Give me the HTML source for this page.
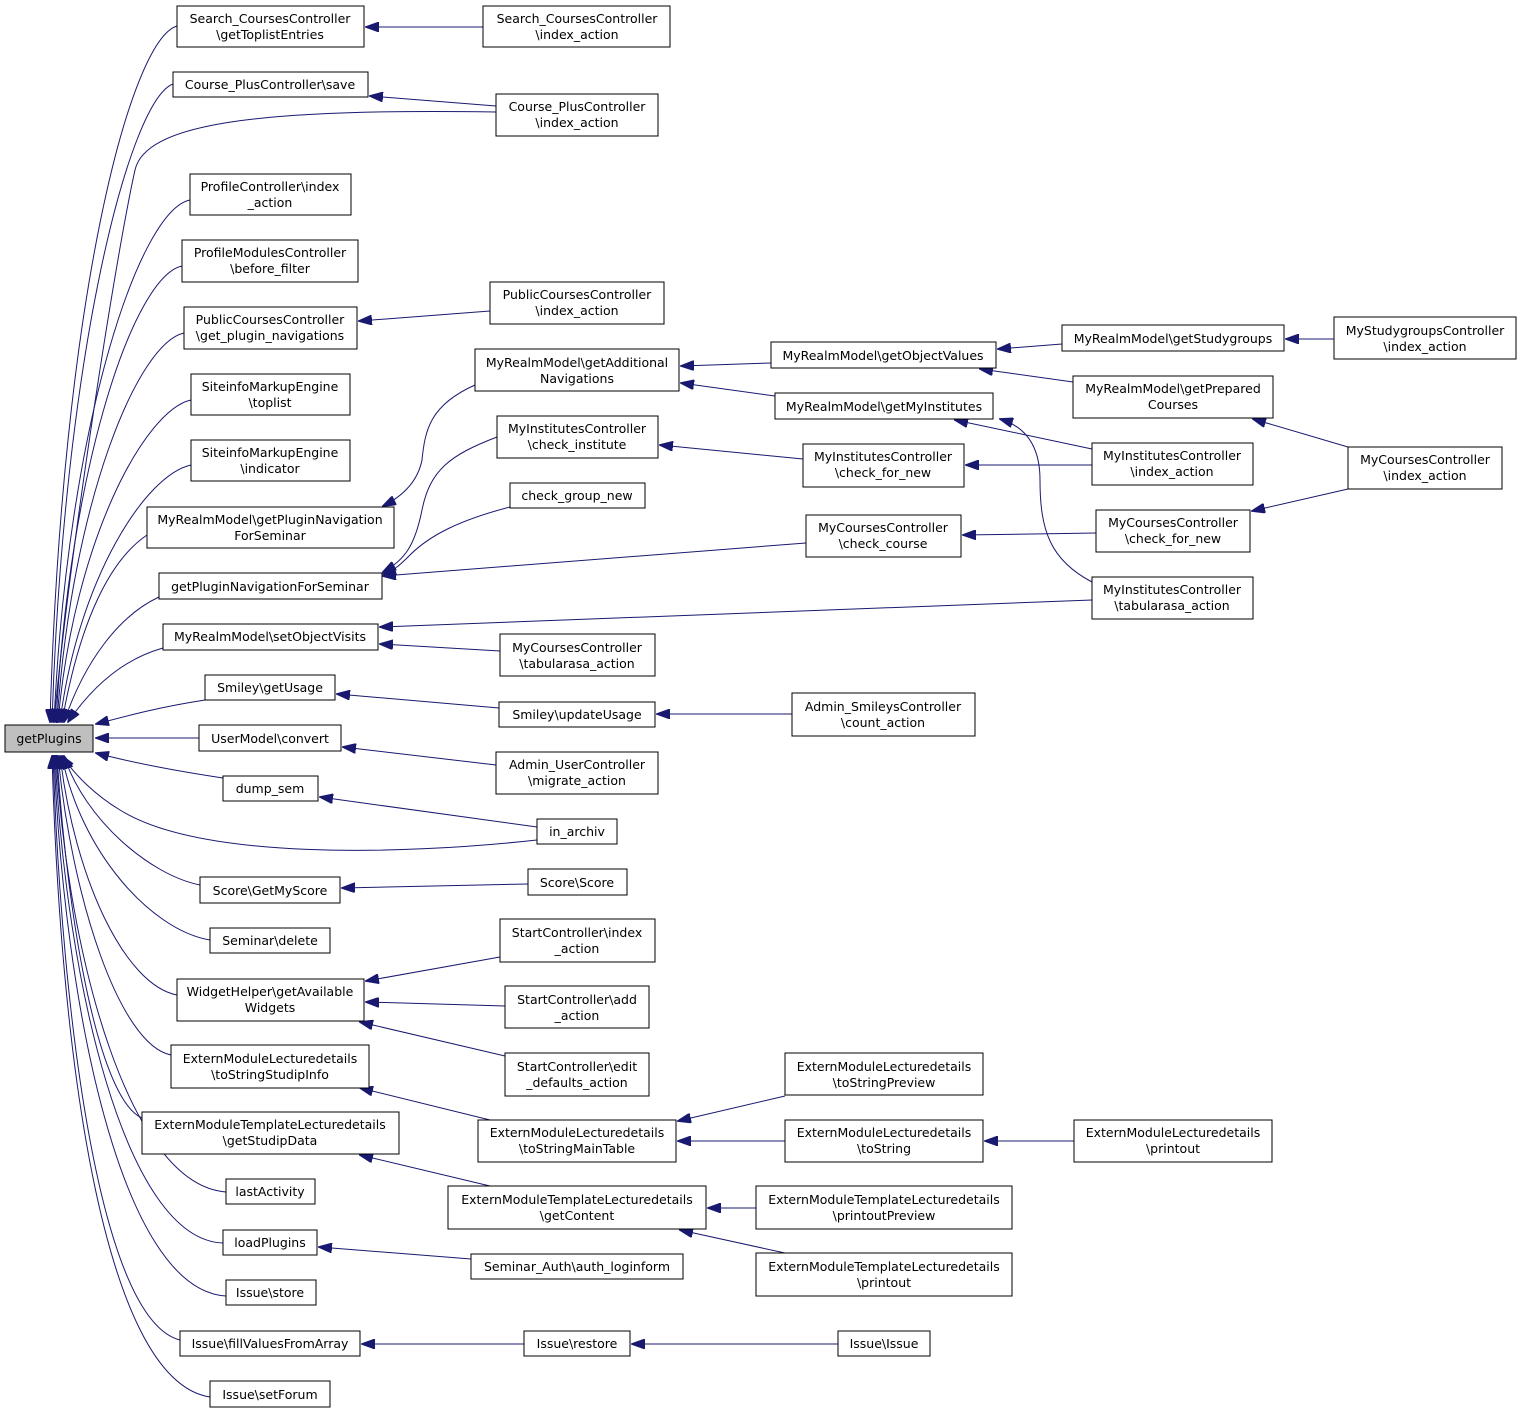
<!DOCTYPE html>
<html><head><meta charset="utf-8"><style>
html,body{margin:0;padding:0;background:#fff;}
svg{display:block;}
text{font-family:"DejaVu Sans","Liberation Sans",sans-serif;font-size:12.5px;fill:#000;text-anchor:middle;}
rect{fill:#fff;stroke:#000;stroke-width:1;}
path{fill:none;stroke:#191970;stroke-width:1;}
</style></head><body>
<svg width="1523" height="1413" viewBox="0 0 1523 1413" xmlns="http://www.w3.org/2000/svg">
<defs><marker id="a" viewBox="0 0 14 10" refX="13" refY="5" markerWidth="14" markerHeight="10" markerUnits="userSpaceOnUse" orient="auto"><path d="M0,0 L14,5 L0,10 z" style="fill:#191970;stroke:#191970"/></marker></defs>
<g marker-end="url(#a)">
<!-- to getPlugins top -->
<path d="M177,26 C130,40 62,300 50,722"/>
<path d="M173,84 C130,100 64,350 52,722"/>
<path d="M496,112 C250,108 145,125 135,170 C115,260 70,550 54,722"/>
<path d="M190,200 C140,210 68,420 54,722"/>
<path d="M182,266 C135,276 70,460 56,722"/>
<path d="M184,333 C138,343 72,500 57,722"/>
<path d="M191,400 C145,410 74,540 58,722"/>
<path d="M191,465 C145,475 78,580 60,722"/>
<path d="M147,535 C110,560 80,620 62,722"/>
<path d="M159,597 C120,615 85,660 64,722"/>
<path d="M163,648 C120,660 90,690 68,722"/>
<path d="M205,700 C160,707 130,715 96,724"/>
<path d="M199,738 L96,738"/>
<path d="M223,778 C170,770 130,762 96,753"/>
<!-- to getPlugins bottom -->
<path d="M537,840 C400,855 200,860 120,810 C95,795 75,775 62,756"/>
<path d="M200,885 C150,875 85,820 64,756"/>
<path d="M210,940 C150,930 80,850 62,756"/>
<path d="M177,995 C125,985 75,880 60,756"/>
<path d="M171,1055 C120,1045 72,900 58,756"/>
<path d="M142,1118 C100,1100 68,930 57,756"/>
<path d="M226,1192 C130,1185 68,960 56,756"/>
<path d="M223,1243 C125,1240 66,980 55,756"/>
<path d="M226,1296 C120,1290 64,1000 54,756"/>
<path d="M180,1340 C100,1320 62,1020 53,756"/>
<path d="M210,1397 C100,1380 60,1040 52,756"/>
<!-- others -->
<path d="M483,27 L366,27"/>
<path d="M496,106 L370,96"/>
<path d="M490,311 L359,321"/>
<path d="M475,385 C430,405 425,430 422,460 C418,480 405,495 383,506"/>
<path d="M497,437 C450,455 430,470 422,510 C415,545 405,560 383,572"/>
<path d="M510,507 C460,520 430,535 410,555 C400,565 395,570 383,574"/>
<path d="M806,543 L383,576"/>
<path d="M771,363 L681,366"/>
<path d="M775,396 L681,383"/>
<path d="M803,459 L660,445"/>
<path d="M1062,344 L998,349"/>
<path d="M1073,382 L980,369"/>
<path d="M1092,449 L955,420"/>
<path d="M1092,582 C1050,560 1040,530 1040,480 C1040,440 1020,425 1000,419"/>
<path d="M1092,465 L966,465"/>
<path d="M1334,339 L1286,339"/>
<path d="M1348,447 L1253,419"/>
<path d="M1348,489 L1252,511"/>
<path d="M1096,533 L963,535"/>
<path d="M1092,600 L380,627"/>
<path d="M500,651 L380,644"/>
<path d="M499,708 L337,694"/>
<path d="M792,714 L657,714"/>
<path d="M496,765 L343,747"/>
<path d="M537,827 L320,797"/>
<path d="M528,884 L342,888"/>
<path d="M500,957 L366,981"/>
<path d="M505,1006 L366,1002"/>
<path d="M505,1056 L360,1022"/>
<path d="M490,1120 L360,1088"/>
<path d="M785,1096 L678,1121"/>
<path d="M785,1141 L678,1141"/>
<path d="M1074,1141 L985,1141"/>
<path d="M490,1186 L360,1155"/>
<path d="M756,1208 L708,1208"/>
<path d="M785,1253 L680,1230"/>
<path d="M471,1259 L319,1247"/>
<path d="M524,1344 L362,1344"/>
<path d="M838,1344 L632,1344"/>
</g>
<!-- boxes -->
<rect x="5" y="725" width="88" height="27" style="fill:#bfbfbf"/><text x="49" y="743">getPlugins</text>

<rect x="177" y="6" width="187" height="41"/><text x="270" y="23">Search_CoursesController</text><text x="270" y="39">\getToplistEntries</text>
<rect x="173" y="72" width="195" height="25"/><text x="270" y="89">Course_PlusController\save</text>
<rect x="190" y="174" width="161" height="41"/><text x="270" y="191">ProfileController\index</text><text x="270" y="207">_action</text>
<rect x="182" y="240" width="176" height="42"/><text x="270" y="257">ProfileModulesController</text><text x="270" y="273">\before_filter</text>
<rect x="184" y="307" width="173" height="42"/><text x="270" y="324">PublicCoursesController</text><text x="270" y="340">\get_plugin_navigations</text>
<rect x="191" y="374" width="159" height="41"/><text x="270" y="391">SiteinfoMarkupEngine</text><text x="270" y="407">\toplist</text>
<rect x="191" y="440" width="159" height="41"/><text x="270" y="457">SiteinfoMarkupEngine</text><text x="270" y="473">\indicator</text>
<rect x="147" y="507" width="247" height="41"/><text x="270" y="524">MyRealmModel\getPluginNavigation</text><text x="270" y="540">ForSeminar</text>
<rect x="159" y="573" width="223" height="26"/><text x="270" y="591">getPluginNavigationForSeminar</text>
<rect x="163" y="624" width="215" height="26"/><text x="270" y="641">MyRealmModel\setObjectVisits</text>
<rect x="205" y="675" width="130" height="25"/><text x="270" y="692">Smiley\getUsage</text>
<rect x="199" y="725" width="142" height="26"/><text x="270" y="743">UserModel\convert</text>
<rect x="223" y="776" width="95" height="25"/><text x="270" y="793">dump_sem</text>
<rect x="200" y="877" width="140" height="26"/><text x="270" y="895">Score\GetMyScore</text>
<rect x="210" y="928" width="120" height="25"/><text x="270" y="945">Seminar\delete</text>
<rect x="177" y="979" width="187" height="42"/><text x="270" y="996">WidgetHelper\getAvailable</text><text x="270" y="1012">Widgets</text>
<rect x="171" y="1045" width="198" height="43"/><text x="270" y="1063">ExternModuleLecturedetails</text><text x="270" y="1079">\toStringStudipInfo</text>
<rect x="142" y="1112" width="257" height="42"/><text x="270" y="1129">ExternModuleTemplateLecturedetails</text><text x="270" y="1145">\getStudipData</text>
<rect x="226" y="1179" width="89" height="25"/><text x="270" y="1196">lastActivity</text>
<rect x="223" y="1230" width="94" height="25"/><text x="270" y="1247">loadPlugins</text>
<rect x="226" y="1280" width="90" height="25"/><text x="270" y="1297">Issue\store</text>
<rect x="180" y="1331" width="180" height="25"/><text x="270" y="1348">Issue\fillValuesFromArray</text>
<rect x="210" y="1381" width="120" height="26"/><text x="270" y="1399">Issue\setForum</text>

<rect x="483" y="6" width="187" height="41"/><text x="577" y="23">Search_CoursesController</text><text x="577" y="39">\index_action</text>
<rect x="496" y="94" width="162" height="42"/><text x="577" y="111">Course_PlusController</text><text x="577" y="127">\index_action</text>
<rect x="490" y="282" width="174" height="42"/><text x="577" y="299">PublicCoursesController</text><text x="577" y="315">\index_action</text>
<rect x="475" y="349" width="204" height="42"/><text x="577" y="367">MyRealmModel\getAdditional</text><text x="577" y="383">Navigations</text>
<rect x="497" y="416" width="161" height="42"/><text x="577" y="433">MyInstitutesController</text><text x="577" y="449">\check_institute</text>
<rect x="510" y="483" width="135" height="25"/><text x="577" y="500">check_group_new</text>
<rect x="500" y="634" width="155" height="42"/><text x="577" y="652">MyCoursesController</text><text x="577" y="668">\tabularasa_action</text>
<rect x="499" y="702" width="156" height="25"/><text x="577" y="719">Smiley\updateUsage</text>
<rect x="496" y="752" width="162" height="42"/><text x="577" y="769">Admin_UserController</text><text x="577" y="785">\migrate_action</text>
<rect x="537" y="819" width="80" height="25"/><text x="577" y="836">in_archiv</text>
<rect x="528" y="869" width="99" height="26"/><text x="577" y="887">Score\Score</text>
<rect x="500" y="919" width="155" height="43"/><text x="577" y="937">StartController\index</text><text x="577" y="953">_action</text>
<rect x="505" y="986" width="144" height="42"/><text x="577" y="1004">StartController\add</text><text x="577" y="1020">_action</text>
<rect x="505" y="1053" width="144" height="43"/><text x="577" y="1071">StartController\edit</text><text x="577" y="1087">_defaults_action</text>
<rect x="478" y="1120" width="198" height="42"/><text x="577" y="1137">ExternModuleLecturedetails</text><text x="577" y="1153">\toStringMainTable</text>
<rect x="448" y="1186" width="258" height="43"/><text x="577" y="1204">ExternModuleTemplateLecturedetails</text><text x="577" y="1220">\getContent</text>
<rect x="471" y="1254" width="212" height="25"/><text x="577" y="1271">Seminar_Auth\auth_loginform</text>
<rect x="524" y="1331" width="106" height="25"/><text x="577" y="1348">Issue\restore</text>

<rect x="771" y="342" width="225" height="26"/><text x="883" y="360">MyRealmModel\getObjectValues</text>
<rect x="775" y="393" width="218" height="26"/><text x="884" y="411">MyRealmModel\getMyInstitutes</text>
<rect x="803" y="444" width="161" height="43"/><text x="883" y="461">MyInstitutesController</text><text x="883" y="477">\check_for_new</text>
<rect x="806" y="515" width="155" height="42"/><text x="883" y="532">MyCoursesController</text><text x="883" y="548">\check_course</text>
<rect x="792" y="693" width="183" height="43"/><text x="883" y="711">Admin_SmileysController</text><text x="883" y="727">\count_action</text>
<rect x="785" y="1053" width="198" height="42"/><text x="884" y="1071">ExternModuleLecturedetails</text><text x="884" y="1087">\toStringPreview</text>
<rect x="785" y="1120" width="198" height="42"/><text x="884" y="1137">ExternModuleLecturedetails</text><text x="884" y="1153">\toString</text>
<rect x="756" y="1186" width="256" height="43"/><text x="884" y="1204">ExternModuleTemplateLecturedetails</text><text x="884" y="1220">\printoutPreview</text>
<rect x="756" y="1253" width="256" height="43"/><text x="884" y="1271">ExternModuleTemplateLecturedetails</text><text x="884" y="1287">\printout</text>
<rect x="838" y="1331" width="92" height="25"/><text x="884" y="1348">Issue\Issue</text>

<rect x="1062" y="325" width="222" height="26"/><text x="1173" y="343">MyRealmModel\getStudygroups</text>
<rect x="1073" y="376" width="200" height="42"/><text x="1173" y="393">MyRealmModel\getPrepared</text><text x="1173" y="409">Courses</text>
<rect x="1092" y="443" width="161" height="42"/><text x="1172" y="460">MyInstitutesController</text><text x="1172" y="476">\index_action</text>
<rect x="1096" y="510" width="154" height="42"/><text x="1173" y="527">MyCoursesController</text><text x="1173" y="543">\check_for_new</text>
<rect x="1092" y="577" width="161" height="42"/><text x="1172" y="594">MyInstitutesController</text><text x="1172" y="610">\tabularasa_action</text>
<rect x="1074" y="1120" width="198" height="42"/><text x="1173" y="1137">ExternModuleLecturedetails</text><text x="1173" y="1153">\printout</text>

<rect x="1334" y="317" width="182" height="42"/><text x="1425" y="335">MyStudygroupsController</text><text x="1425" y="351">\index_action</text>
<rect x="1348" y="447" width="154" height="42"/><text x="1425" y="464">MyCoursesController</text><text x="1425" y="480">\index_action</text>
</svg>
</body></html>
